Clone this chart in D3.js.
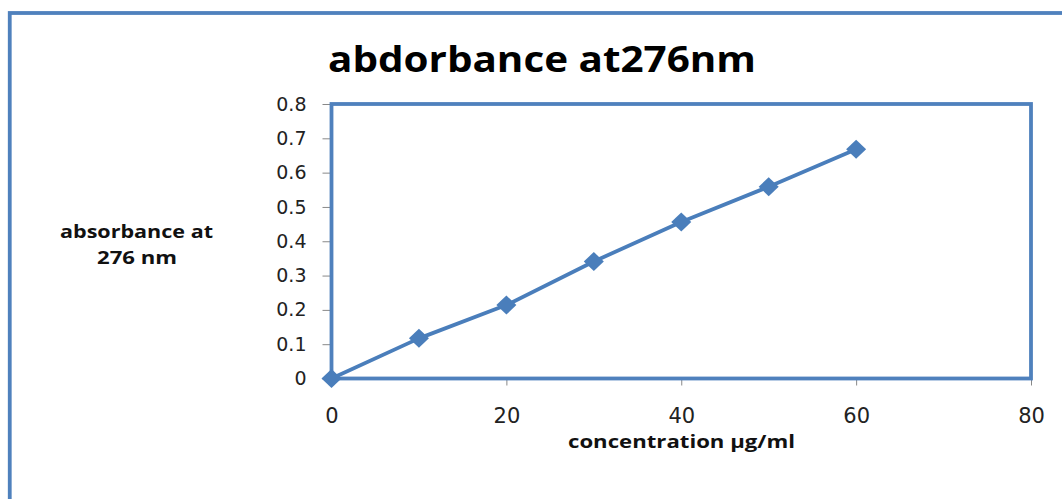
<!DOCTYPE html>
<html>
<head>
<meta charset="utf-8">
<script src="https://cdn.jsdelivr.net/npm/d3@7"></script>
<style>
  html, body { margin: 0; padding: 0; background: #fff; }
  svg { display: block; }
</style>
</head>
<body>
<svg id="chart" width="1062" height="499"></svg>
<script>
// Calibration data: concentration (µg/ml) vs absorbance at 276 nm
const concentration = [0, 10, 20, 30, 40, 50, 60];
const absorbance = [0, 0.117, 0.214, 0.341, 0.456, 0.559, 0.668];
const xTicks = [0, 20, 40, 60, 80];
const yTicks = [0, 0.1, 0.2, 0.3, 0.4, 0.5, 0.6, 0.7, 0.8];

const titleText = "abdorbance at276nm";
const xLabel = "concentration µg/ml";
const yLabelLines = ["absorbance at", "276 nm"];

const blue = "#4F81BD";
const lineBlue = "#4A7EBB";
const boldFont = "'Open Sans', 'DejaVu Sans', sans-serif";
const tickFont = "'DejaVu Sans', sans-serif";

const svg = d3.select("#chart");

// outer chart frame
svg.append("rect")
  .attr("x", 9.75).attr("y", 13)
  .attr("width", 1100).attr("height", 600)
  .attr("fill", "#fff")
  .attr("stroke", blue).attr("stroke-width", 3.8);

const plot = { left: 331.5, right: 1031, top: 104, bottom: 378.5 };

const x = d3.scaleLinear().domain([0, 80]).range([plot.left, plot.right]);
const y = d3.scaleLinear().domain([0, 0.8]).range([plot.bottom, plot.top]);

// y axis ticks and labels
const yAxis = svg.append("g")
  .attr("transform", `translate(${plot.left},0)`)
  .call(d3.axisLeft(y).tickValues(yTicks).tickSize(9).tickPadding(16)
    .tickFormat(d => d === 0 ? "0" : d3.format(".1f")(d)));
yAxis.select(".domain").remove();
yAxis.selectAll(".tick line").attr("stroke", "#888").attr("stroke-width", 1);
yAxis.selectAll(".tick text")
  .attr("font-family", tickFont).attr("font-size", 19).attr("fill", "#222");

// x axis ticks and labels
const xAxis = svg.append("g")
  .attr("transform", `translate(0,${plot.bottom})`)
  .call(d3.axisBottom(x).tickValues(xTicks).tickSize(7).tickPadding(23)
    .tickFormat(d3.format("d")));
xAxis.select(".domain").remove();
xAxis.selectAll(".tick line").attr("stroke", "#888").attr("stroke-width", 1);
xAxis.selectAll(".tick text")
  .attr("font-family", tickFont).attr("font-size", 21).attr("fill", "#222");

// plot area frame
svg.append("rect")
  .attr("x", plot.left).attr("y", plot.top)
  .attr("width", plot.right - plot.left).attr("height", plot.bottom - plot.top)
  .attr("fill", "none")
  .attr("stroke", blue).attr("stroke-width", 3.8);

// series line
const points = concentration.map((c, i) => [c, absorbance[i]]);
svg.append("path")
  .datum(points)
  .attr("fill", "none")
  .attr("stroke", lineBlue)
  .attr("stroke-width", 3.8)
  .attr("stroke-linejoin", "round")
  .attr("d", d3.line().x(d => x(d[0])).y(d => y(d[1])));

// diamond markers
const diamond = "M0,-9.5 L10,0 L0,9.5 L-10,0 Z";
svg.append("g").selectAll("path")
  .data(points)
  .join("path")
  .attr("transform", d => `translate(${x(d[0])},${y(d[1])})`)
  .attr("d", diamond)
  .attr("fill", lineBlue);

// fit bold text to a measured width
function fitText(sel, width) {
  sel.attr("textLength", width).attr("lengthAdjust", "spacingAndGlyphs");
}

// title
svg.append("text")
  .attr("x", 328).attr("y", 72)
  .attr("font-family", boldFont).attr("font-weight", "bold")
  .attr("font-size", 35).attr("fill", "#000")
  .text(titleText)
  .call(fitText, 428);

// x axis title
svg.append("text")
  .attr("x", 568).attr("y", 448)
  .attr("font-family", boldFont).attr("font-weight", "bold")
  .attr("font-size", 17).attr("fill", "#111")
  .text(xLabel)
  .call(fitText, 227);

// y axis title (two lines)
const yLabelX = [60, 97];
const yLabelW = [153, 80];
const yLabelY = [238, 264];
yLabelLines.forEach((t, i) => {
  svg.append("text")
    .attr("x", yLabelX[i]).attr("y", yLabelY[i])
    .attr("font-family", boldFont).attr("font-weight", "bold")
    .attr("font-size", 17).attr("fill", "#111")
    .text(t)
    .call(fitText, yLabelW[i]);
});
</script>
</body>
</html>
